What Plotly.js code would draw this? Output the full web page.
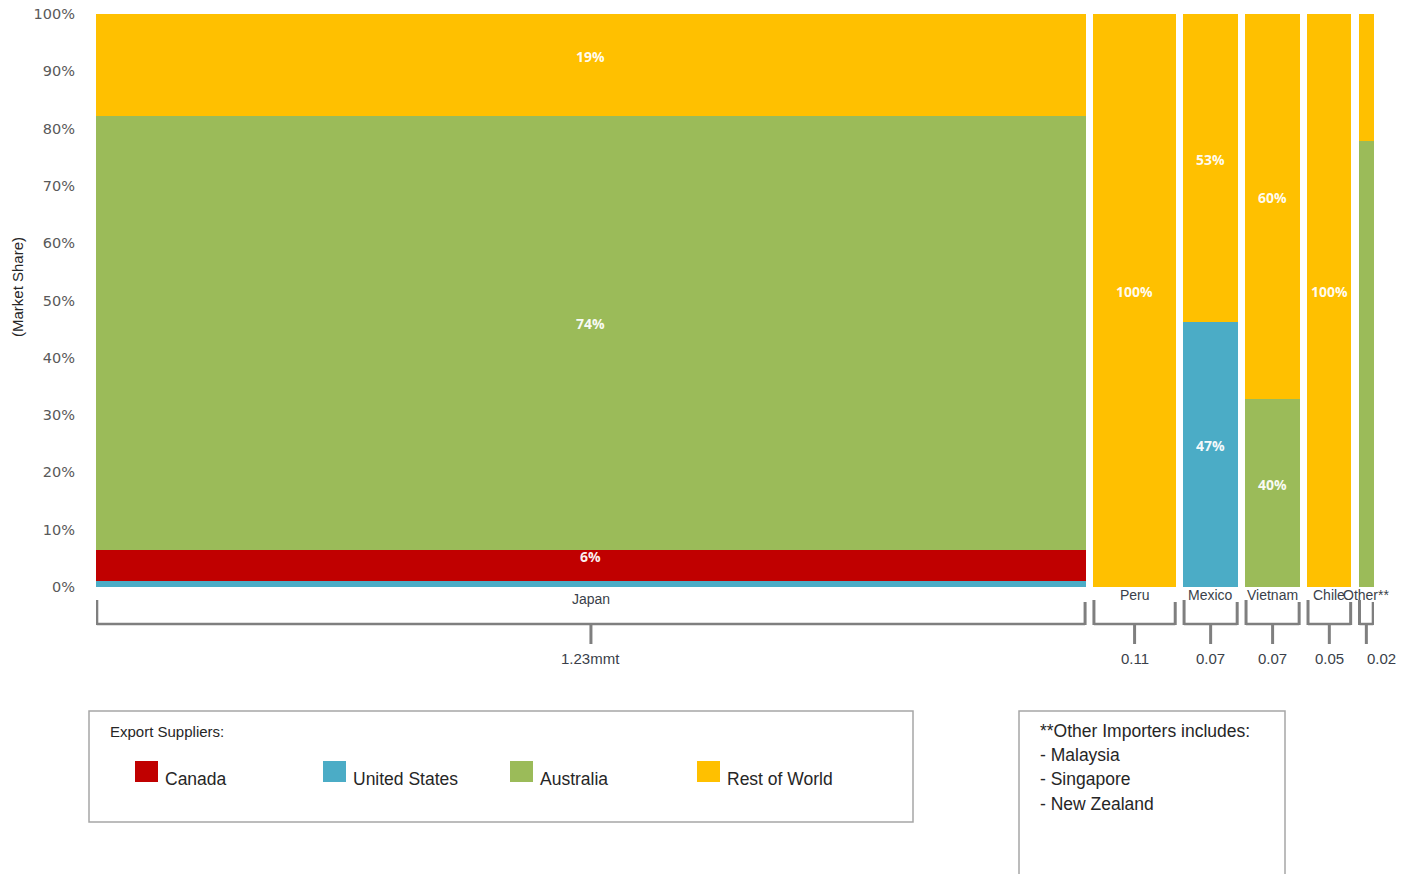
<!DOCTYPE html>
<html>
<head>
<meta charset="utf-8">
<script src="https://cdn.plot.ly/plotly-3.0.1.min.js"></script>
<style>html,body{margin:0;padding:0;background:#fff;}#chart{width:1414px;height:874px;}</style>
</head>
<body>
<div id="chart"></div>
<script>
// ---- data ----
const categories = ['Japan', 'Peru', 'Mexico', 'Vietnam', 'Chile', 'Other**'];
const volumes = [1.23, 0.103, 0.068, 0.068, 0.055, 0.019];       // import volume (mmt), column widths
const volumeLabels = ['1.23mmt', '0.11', '0.07', '0.07', '0.05', '0.02'];
// segment heights as drawn (% market share)
const unitedStates = [1, 0, 46.2, 0, 0, 0];
const canada = [5.5, 0, 0, 0, 0, 0];
const australia = [75.7, 0, 0, 32.8, 0, 77.8];
const restOfWorld = [17.8, 100, 53.8, 67.2, 100, 22.2];
// segment labels as printed on the chart
const unitedStatesLabels = ['', '', '47%', '', '', ''];
const canadaLabels = ['6%', '', '', '', '', ''];
const australiaLabels = ['74%', '', '', '40%', '', ''];
const restOfWorldLabels = ['19%', '100%', '53%', '60%', '100%', ''];
const legendNames = ['Canada', 'United States', 'Australia', 'Rest of World'];
const legendColors = ['#C00000', '#4BACC6', '#9BBB59', '#FFC000'];
const otherImporters = ['Malaysia', 'Singapore', 'New Zealand'];
const yTicks = [0, 10, 20, 30, 40, 50, 60, 70, 80, 90, 100];

// ---- layout helpers ----
const GAP = 0.009;
const starts = [], ends = [], centers = [];
let cursor = 0;
volumes.forEach((v) => {
  starts.push(cursor); ends.push(cursor + v); centers.push(cursor + v / 2);
  cursor += v + GAP;
});
const xMax = ends[ends.length - 1];

const L = 96, R = 1374, T = 14, B = 587;
const px = x => (x - L) / (R - L);
const py = y => (B - y) / (B - T);

const colorOf = name => legendColors[legendNames.indexOf(name)];
const stackOrder = [
  ['United States', unitedStates, unitedStatesLabels],
  ['Canada', canada, canadaLabels],
  ['Australia', australia, australiaLabels],
  ['Rest of World', restOfWorld, restOfWorldLabels]
];
const traces = stackOrder.map(([name, values]) => ({
  type: 'bar', name: name, x: centers, y: values, width: volumes,
  marker: {color: colorOf(name), line: {width: 0}},
  hoverinfo: 'skip', showlegend: false
}));

const annotations = [];
// segment labels, positioned at stacked segment middles (data coords)
const base = categories.map(() => 0);
stackOrder.forEach(([name, values, labels]) => {
  values.forEach((v, i) => {
    if (labels[i]) {
      annotations.push({xref: 'x', yref: 'y', x: centers[i], y: base[i] + v / 2, yshift: 9, text: labels[i], showarrow: false,
        xanchor: 'center', yanchor: 'middle',
        font: {family: 'Open Sans', size: 14, color: 'rgba(255,255,255,0.95)', weight: 'bold'}});
    }
    base[i] += v;
  });
});

const grey = '#7f7f7f';
const shapes = [];
categories.forEach((c, i) => {
  const s = starts[i] + 0.001, e = ends[i] - 0.001;
  shapes.push({type: 'line', xref: 'x', yref: 'paper', x0: s, x1: s, y0: py(600), y1: py(625), line: {color: grey, width: 3}});
  shapes.push({type: 'line', xref: 'x', yref: 'paper', x0: e, x1: e, y0: py(602), y1: py(625), line: {color: grey, width: 3}});
  shapes.push({type: 'line', xref: 'x', yref: 'paper', x0: s, x1: e, y0: py(624), y1: py(624), line: {color: grey, width: 2.5}});
  shapes.push({type: 'line', xref: 'x', yref: 'paper', x0: centers[i], x1: centers[i], y0: py(624), y1: py(644), line: {color: grey, width: 3}});
  annotations.push({xref: 'x', yref: 'paper', x: centers[i], y: py(i === 0 ? 599 : 595), text: c, showarrow: false,
    xanchor: 'center', yanchor: 'middle', font: {family: 'Liberation Sans, Arial', size: 14, color: '#3a3f4a'}});
  annotations.push({xref: 'x', yref: 'paper', x: centers[i], y: py(658), xshift: i === categories.length - 1 ? 15 : 0,
    text: volumeLabels[i], showarrow: false,
    xanchor: 'center', yanchor: 'middle', font: {family: 'Liberation Sans, Arial', size: 15, color: '#3a3f4a'}});
});

// y-axis title
annotations.push({xref: 'paper', yref: 'paper', x: px(17), y: py(287), text: '(Market Share)', textangle: -90, showarrow: false,
  xanchor: 'center', yanchor: 'middle', font: {family: 'Liberation Sans, Arial', size: 15, color: '#262626'}});

// legend box
shapes.push({type: 'rect', xref: 'paper', yref: 'paper', x0: px(89), x1: px(913), y0: py(711), y1: py(822),
  line: {color: '#a6a6a6', width: 1.5}, fillcolor: 'rgba(0,0,0,0)'});
annotations.push({xref: 'paper', yref: 'paper', x: px(108), y: py(731), text: 'Export Suppliers:', showarrow: false,
  xanchor: 'left', yanchor: 'middle', font: {family: 'Liberation Sans, Arial', size: 15, color: '#262626'}});
const legendX = [135, 323, 510, 697];
legendNames.forEach((n, i) => {
  shapes.push({type: 'rect', xref: 'paper', yref: 'paper', x0: px(legendX[i]), x1: px(legendX[i] + 23), y0: py(761), y1: py(782),
    line: {width: 0}, fillcolor: legendColors[i]});
  annotations.push({xref: 'paper', yref: 'paper', x: px(legendX[i] + 28), y: py(779), text: n, showarrow: false,
    xanchor: 'left', yanchor: 'middle', font: {family: 'Liberation Sans, Arial', size: 17.5, color: '#262626'}});
});

// note box
shapes.push({type: 'rect', xref: 'paper', yref: 'paper', x0: px(1019), x1: px(1285), y0: py(711), y1: py(890),
  line: {color: '#a6a6a6', width: 1.5}, fillcolor: 'rgba(0,0,0,0)'});
const noteLines = ['**Other Importers includes:'].concat(otherImporters.map(s => '- ' + s));
const noteY = [731, 755, 779, 804];
noteLines.forEach((t, i) => {
  annotations.push({xref: 'paper', yref: 'paper', x: px(1038), y: py(noteY[i]), text: t, showarrow: false,
    xanchor: 'left', yanchor: 'middle', font: {family: 'Liberation Sans, Arial', size: 17.5, color: '#262626'}});
});

const layout = {
  width: 1414, height: 874,
  margin: {l: L, r: 1414 - R, t: T, b: 874 - B, pad: 0},
  paper_bgcolor: '#ffffff', plot_bgcolor: '#ffffff',
  barmode: 'stack', bargap: 0,
  showlegend: false,
  xaxis: {range: [0, xMax], showticklabels: false, showgrid: false, zeroline: false, showline: false, ticks: '', fixedrange: true},
  yaxis: {range: [0, 100], tickvals: yTicks, ticktext: yTicks.map(v => v + '%'), showgrid: false, zeroline: false,
    showline: false, ticks: '', ticklabelstandoff: 20,
    tickfont: {family: 'DejaVu Sans', size: 14.5, color: '#595959'}, fixedrange: true},
  shapes: shapes,
  annotations: annotations
};

Plotly.newPlot('chart', traces, layout, {displayModeBar: false, staticPlot: true});
</script>
</body>
</html>
